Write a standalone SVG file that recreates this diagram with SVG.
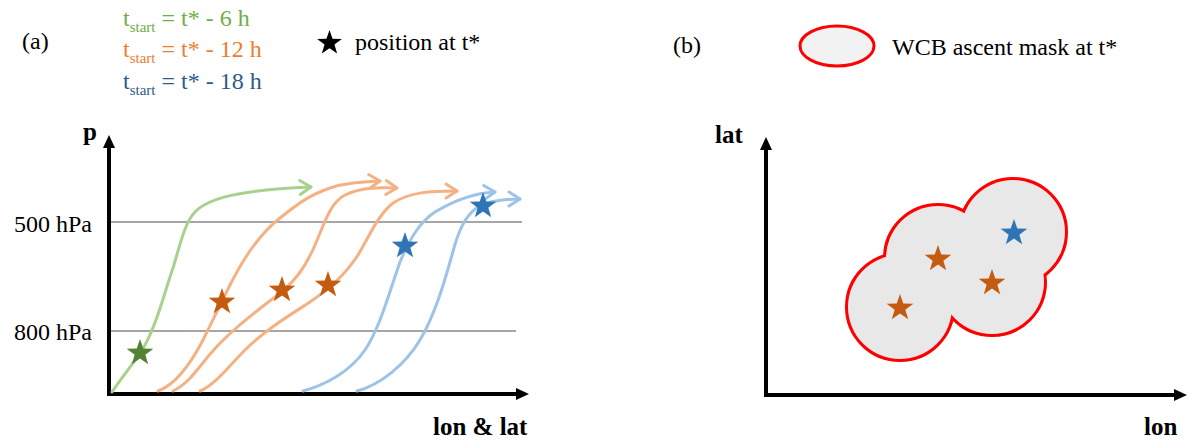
<svg xmlns="http://www.w3.org/2000/svg" width="1194" height="442" viewBox="0 0 1194 442">
<style>
text{font-family:"Liberation Serif","Times New Roman",serif;font-size:24px;fill:#000}
.b{font-weight:bold;font-size:25px}
.axis{stroke:#000;stroke-width:4;fill:none}
.grid{stroke:#a6a6a6;stroke-width:2}
.traj{fill:none;stroke-width:3;stroke-linecap:round;stroke-linejoin:round}
.g{stroke:#a9d18e}.o{stroke:#f4b183}.bl{stroke:#9dc3e6}
.sg{fill:#548235}.so{fill:#c55a11}.sb{fill:#2e75b6}
.mask-edge{fill:none;stroke:#ff0000;stroke-width:6}
.mask-fill{fill:#e8e8e8}
</style>
<defs>
<marker id="axhead" viewBox="0 0 13 12" refX="1" refY="6" markerWidth="13" markerHeight="12" markerUnits="userSpaceOnUse" orient="auto">
<path d="M0,0 L13,6 L0,12 z" fill="#000"/>
</marker>
<marker id="chevG" viewBox="0 0 14 16" refX="12" refY="8" markerWidth="14" markerHeight="16" markerUnits="userSpaceOnUse" orient="auto" overflow="visible">
<path d="M1,1 L12,8 L1,15" fill="none" stroke="#a9d18e" stroke-width="3" stroke-linecap="round" stroke-linejoin="round"/>
</marker>
<marker id="chevO" viewBox="0 0 14 16" refX="12" refY="8" markerWidth="14" markerHeight="16" markerUnits="userSpaceOnUse" orient="auto" overflow="visible">
<path d="M1,1 L12,8 L1,15" fill="none" stroke="#f4b183" stroke-width="3" stroke-linecap="round" stroke-linejoin="round"/>
</marker>
<marker id="chevB" viewBox="0 0 14 16" refX="12" refY="8" markerWidth="14" markerHeight="16" markerUnits="userSpaceOnUse" orient="auto" overflow="visible">
<path d="M1,1 L12,8 L1,15" fill="none" stroke="#9dc3e6" stroke-width="3" stroke-linecap="round" stroke-linejoin="round"/>
</marker>
<path id="star" d="M0,-14 L3.29,-4.53 L13.31,-4.33 L5.33,1.73 L8.23,11.33 L0,5.6 L-8.23,11.33 L-5.33,1.73 L-13.31,-4.33 L-3.29,-4.53 z"/>
</defs>

<!-- Panel (a) -->
<g id="panel-a-label"><text x="22" y="49">(a)</text></g>
<g id="legend-a">
<text x="123" y="26" fill="#70ad47" style="fill:#70ad47">t<tspan dy="6" font-size="15">start</tspan><tspan dy="-6"> = t* - 6 h</tspan></text>
<text x="123" y="57" style="fill:#ed7d31">t<tspan dy="6" font-size="15">start</tspan><tspan dy="-6"> = t* - 12 h</tspan></text>
<text x="123" y="89" style="fill:#2e5b8a">t<tspan dy="6" font-size="15">start</tspan><tspan dy="-6"> = t* - 18 h</tspan></text>
<use href="#star" transform="translate(329.5,43) scale(0.93)" fill="#000"/>
<text x="355" y="50">position at t*</text>
</g>
<g id="grid-a">
<line class="grid" x1="109" y1="222" x2="522" y2="222"/>
<line class="grid" x1="109" y1="331" x2="516" y2="331"/>
<text x="92" y="232" text-anchor="end">500 hPa</text>
<text x="92" y="340" text-anchor="end">800 hPa</text>
</g>
<g id="axes-a">
<line class="axis" x1="109" y1="396" x2="109" y2="147" marker-end="url(#axhead)"/>
<line class="axis" x1="107" y1="394" x2="517" y2="394" marker-end="url(#axhead)"/>
<text class="b" x="83" y="140">p</text>
<text class="b" x="433" y="435">lon &amp; lat</text>
</g>
<g id="connectors">
<path class="traj g" d="M112,392 C125,373 135,362 145,345 C158,322 165,290 173,268 C180,245 185,222 195,212 C208,198 240,190 311,187" marker-end="url(#chevG)"/>
<path class="traj o" d="M158,391 C175,385 190,365 203,340 C212,322 220,305 230,285 C245,255 262,232 280,218 C300,202 310,195 330,188 C345,183 360,182 380,181" marker-end="url(#chevO)"/>
<path class="traj o" d="M173,391 C190,383 200,365 212,352 C228,333 255,312 275,297 C295,282 305,268 315,245 C325,222 330,203 345,195 C360,188 375,187 397,188" marker-end="url(#chevO)"/>
<path class="traj o" d="M200,391 C215,385 230,365 245,350 C265,330 290,315 310,302 C330,288 345,275 358,255 C370,235 378,215 393,203 C410,192 430,191 457,191" marker-end="url(#chevO)"/>
<path class="traj bl" d="M303,391 C325,385 350,372 365,350 C380,328 390,290 400,262 C410,238 420,222 435,212 C455,200 475,193 495,192" marker-end="url(#chevB)"/>
<path class="traj bl" d="M357,391 C380,385 405,365 420,340 C435,315 445,280 452,255 C458,232 465,215 478,207 C490,200 505,199 520,199" marker-end="url(#chevB)"/>
</g>
<g id="stars-a">
<use href="#star" class="sg" transform="translate(140,353)"/>
<use href="#star" class="so" transform="translate(222,302)"/>
<use href="#star" class="so" transform="translate(282,290)"/>
<use href="#star" class="so" transform="translate(328,285)"/>
<use href="#star" class="sb" transform="translate(405,246)"/>
<use href="#star" class="sb" transform="translate(483,206)"/>
</g>

<!-- Panel (b) -->
<g id="panel-b-label"><text x="673" y="53">(b)</text></g>
<g id="legend-b">
<ellipse cx="837" cy="46" rx="37" ry="20" fill="#f2f2f2" stroke="#ff0000" stroke-width="3"/>
<text x="892" y="55">WCB ascent mask at t*</text>
</g>
<g id="axes-b">
<line class="axis" x1="766" y1="397" x2="766" y2="149" marker-end="url(#axhead)"/>
<line class="axis" x1="764" y1="395" x2="1175" y2="395" marker-end="url(#axhead)"/>
<text class="b" x="715" y="143">lat</text>
<text class="b" x="1144" y="435">lon</text>
</g>
<g id="mask">
<circle class="mask-edge" cx="900" cy="307" r="52"/>
<circle class="mask-edge" cx="938" cy="258" r="52"/>
<circle class="mask-edge" cx="992" cy="282" r="52"/>
<circle class="mask-edge" cx="1013" cy="232" r="52"/>
<circle class="mask-fill" cx="900" cy="307" r="52"/>
<circle class="mask-fill" cx="938" cy="258" r="52"/>
<circle class="mask-fill" cx="992" cy="282" r="52"/>
<circle class="mask-fill" cx="1013" cy="232" r="52"/>
</g>
<g id="stars-b">
<use href="#star" class="so" transform="translate(900,308)"/>
<use href="#star" class="so" transform="translate(938,259)"/>
<use href="#star" class="so" transform="translate(992,283)"/>
<use href="#star" class="sb" transform="translate(1014,233)"/>
</g>
</svg>
